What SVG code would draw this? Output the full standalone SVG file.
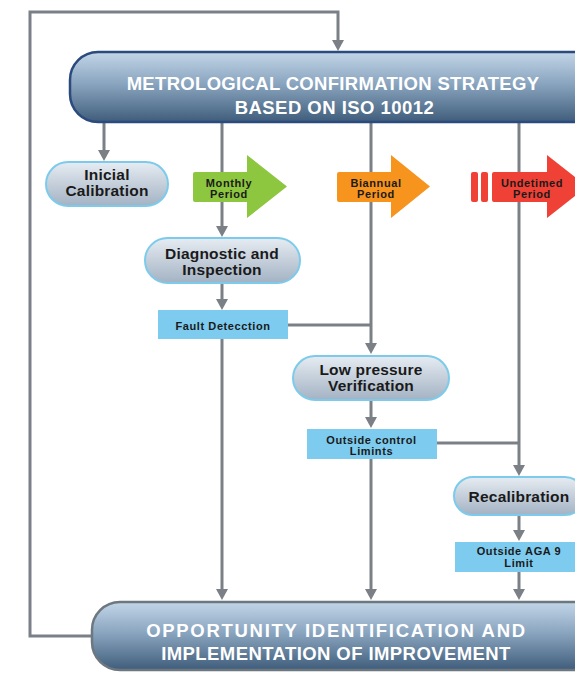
<svg xmlns="http://www.w3.org/2000/svg" width="575" height="673" viewBox="0 0 575 673">
<defs>
<linearGradient id="gHead" x1="0" y1="0" x2="0" y2="1">
<stop offset="0" stop-color="#c3d6e8"/><stop offset="0.45" stop-color="#8aa5bf"/><stop offset="1" stop-color="#3f5d7b"/>
</linearGradient>
<linearGradient id="gPill" x1="0" y1="0" x2="0" y2="1">
<stop offset="0" stop-color="#e6ecf2"/><stop offset="1" stop-color="#a3b2c3"/>
</linearGradient>
<marker id="ah" markerWidth="11" markerHeight="12" refX="1" refY="6" orient="auto" markerUnits="userSpaceOnUse">
<path d="M0,0 L11,6 L0,12 Z" fill="#7b8087"/>
</marker>
<style>
.con{fill:none;stroke:#7b8087;stroke-width:3}
.head{font-family:"Liberation Sans",Arial,sans-serif;font-weight:bold;font-size:18.5px;fill:#ffffff;text-anchor:middle}
.pill{fill:url(#gPill);stroke:#7ccbeb;stroke-width:2}
.pt{font-family:"Liberation Sans",Arial,sans-serif;font-weight:bold;font-size:15.5px;letter-spacing:0.2px;fill:#1a1a1a;text-anchor:middle}
.lab{fill:#7dcbee}
.lt{font-family:"Liberation Sans",Arial,sans-serif;font-weight:bold;font-size:11px;letter-spacing:0.6px;fill:#1a1a1a;text-anchor:middle}
</style>
</defs>
<rect width="575" height="673" fill="#ffffff"/>
<g id="connectors">
<path class="con" d="M92,636 H30 V12 H338 V41" marker-end="url(#ah)"/>
<path class="con" d="M104,122 V151" marker-end="url(#ah)"/>
<path class="con" d="M222,122 V227" marker-end="url(#ah)"/>
<path class="con" d="M371,122 V344" marker-end="url(#ah)"/>
<path class="con" d="M519,122 V466" marker-end="url(#ah)"/>
<path class="con" d="M222,283 V300" marker-end="url(#ah)"/>
<path class="con" d="M288,325 H371"/>
<path class="con" d="M222,339 V590" marker-end="url(#ah)"/>
<path class="con" d="M371,400 V418" marker-end="url(#ah)"/>
<path class="con" d="M437,443 H519"/>
<path class="con" d="M371,459 V590" marker-end="url(#ah)"/>
<path class="con" d="M519,515 V531" marker-end="url(#ah)"/>
<path class="con" d="M519,572 V590" marker-end="url(#ah)"/>
</g>
<g id="strategy">
<rect x="70" y="52" width="540" height="70" rx="28" fill="url(#gHead)" stroke="#2b4a7e" stroke-width="2.5"/>
<text class="head" letter-spacing="0.32" x="333" y="90">METROLOGICAL CONFIRMATION STRATEGY</text>
<text class="head" letter-spacing="0.47" x="334.5" y="114">BASED ON ISO 10012</text>
</g>
<g id="inicial">
<rect class="pill" x="46" y="162" width="122" height="44" rx="22"/>
<text class="pt" x="107" y="180">Inicial</text>
<text class="pt" x="107" y="196">Calibration</text>
</g>
<g id="monthly">
<path d="M195,172 H247 V155 L287,186.5 L247,218 V202 H195 Q193,202 193,200 V174 Q193,172 195,172 Z" fill="#8dc63f"/>
<text class="lt" x="229" y="187">Monthly</text>
<text class="lt" x="229" y="197.5">Period</text>
</g>
<g id="biannual">
<path d="M339,172 H391 V155 L430,186.5 L391,218 V202 H339 Q337,202 337,200 V174 Q337,172 339,172 Z" fill="#f7941d"/>
<text class="lt" x="376" y="187">Biannual</text>
<text class="lt" x="376" y="197.5">Period</text>
</g>
<g id="undetimed">
<rect x="471" y="172" width="7" height="30" rx="2" fill="#ef4136"/>
<rect x="481" y="172" width="7" height="30" rx="2" fill="#ef4136"/>
<path d="M494,172 H547 V155 L587,186.5 L547,218 V202 H494 Q492,202 492,200 V174 Q492,172 494,172 Z" fill="#ef4136"/>
<text class="lt" x="532" y="187">Undetimed</text>
<text class="lt" x="532" y="197.5">Period</text>
</g>
<g id="diagnostic">
<rect class="pill" x="145" y="238" width="155" height="45" rx="22.5"/>
<text class="pt" x="222" y="259">Diagnostic and</text>
<text class="pt" x="222" y="275">Inspection</text>
</g>
<g id="fault">
<rect class="lab" x="158" y="310" width="130" height="29"/>
<text class="lt" x="223" y="329.5">Fault Detecction</text>
</g>
<g id="lowpressure">
<rect class="pill" x="293" y="356" width="156" height="44" rx="22"/>
<text class="pt" x="371" y="375">Low pressure</text>
<text class="pt" x="371" y="391">Verification</text>
</g>
<g id="outsidecontrol">
<rect class="lab" x="307" y="429" width="130" height="30"/>
<text class="lt" x="371.5" y="444">Outside control</text>
<text class="lt" x="371.5" y="455">Limints</text>
</g>
<g id="recalibration">
<rect class="pill" x="454" y="477" width="130" height="38" rx="19"/>
<text class="pt" x="519" y="502">Recalibration</text>
</g>
<g id="outsideaga">
<rect class="lab" x="455" y="542" width="125" height="30"/>
<text class="lt" x="519" y="555">Outside AGA 9</text>
<text class="lt" x="519" y="566.5">Limit</text>
</g>
<g id="opportunity">
<rect x="92" y="602" width="520" height="68" rx="28" fill="url(#gHead)" stroke="#6d7780" stroke-width="2.5"/>
<text class="head" letter-spacing="1.7" x="336.5" y="637">OPPORTUNITY IDENTIFICATION AND</text>
<text class="head" letter-spacing="0.42" x="336" y="660">IMPLEMENTATION OF IMPROVEMENT</text>
</g>
</svg>
